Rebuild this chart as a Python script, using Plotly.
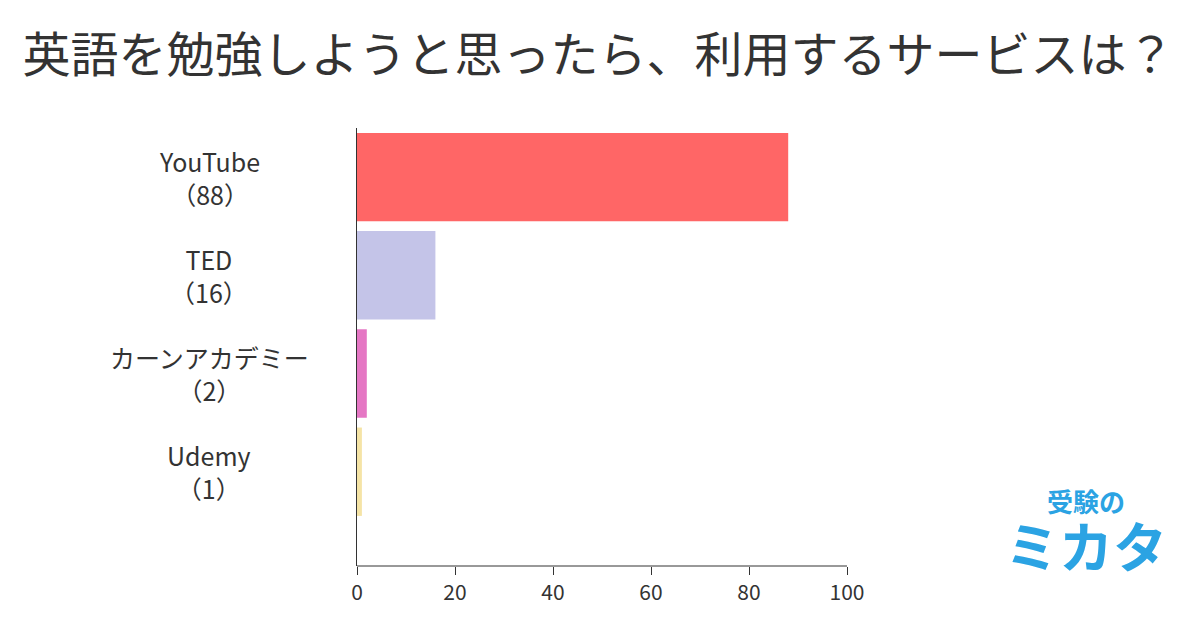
import plotly.graph_objects as go

services = ["YouTube", "TED", "カーンアカデミー", "Udemy"]
counts = [88, 16, 2, 1]
colors = ["#FF6666", "#C4C4E8", "#E577C4", "#F5E4A6"]
tick_vals = [0, 20, 40, 60, 80, 100]

labels = [f"{s}<br>（{c}）" for s, c in zip(services, counts)]
pos = list(range(len(services)))

fig = go.Figure()
fig.add_trace(go.Bar(
    x=counts, y=pos, orientation="h", width=0.9,
    marker=dict(color=colors, line=dict(width=0)),
    hoverinfo="skip",
))

font = "Noto Sans CJK JP"
fig.update_layout(
    width=1200, height=630,
    paper_bgcolor="white", plot_bgcolor="white",
    margin=dict(l=349, r=361, t=120, b=72),
    showlegend=False,
    font=dict(family=font, color="#333333"),
    title=dict(text="英語を勉強しようと思ったら、利用するサービスは？",
               x=0.012, xanchor="left", y=0.925, yanchor="middle",
               font=dict(size=48, color="#333333", family=font)),
    xaxis=dict(range=[0, 100], tickvals=tick_vals, showgrid=False, automargin=False,
               showline=False, zeroline=False, ticks="outside", ticklen=8,
               tickcolor="#333333", tickfont=dict(size=21)),
    yaxis=dict(range=[3.96, -0.5], tickvals=pos, showticklabels=False, automargin=False,
               showgrid=False, showline=True, linecolor="#333333",
               zeroline=False, ticks=""),
)
for p, lab in zip(pos, labels):
    fig.add_annotation(text=lab, x=(208 - 356) / 490, xref="paper", xanchor="center",
                       y=p, yref="y", showarrow=False, align="center",
                       font=dict(size=25, color="#333333"))
fig.add_shape(type="line", xref="paper", yref="paper", x0=0, x1=1, y0=0, y1=0,
              line=dict(color="#333333", width=1))
fig.add_annotation(text="<b>受験の</b>", xref="paper", yref="paper",
                   x=(1085 - 356) / 490, y=(565 - 520) / 438, xanchor="center",
                   showarrow=False, font=dict(size=26, color="#2BA3E3", family=font))
fig.add_annotation(text="<b>ミカタ</b>", xref="paper", yref="paper",
                   x=(1085 - 356) / 490, y=(565 - 585) / 438, xanchor="center",
                   showarrow=False, font=dict(size=54, color="#2BA3E3", family=font))

fig.write_html("out.html")
